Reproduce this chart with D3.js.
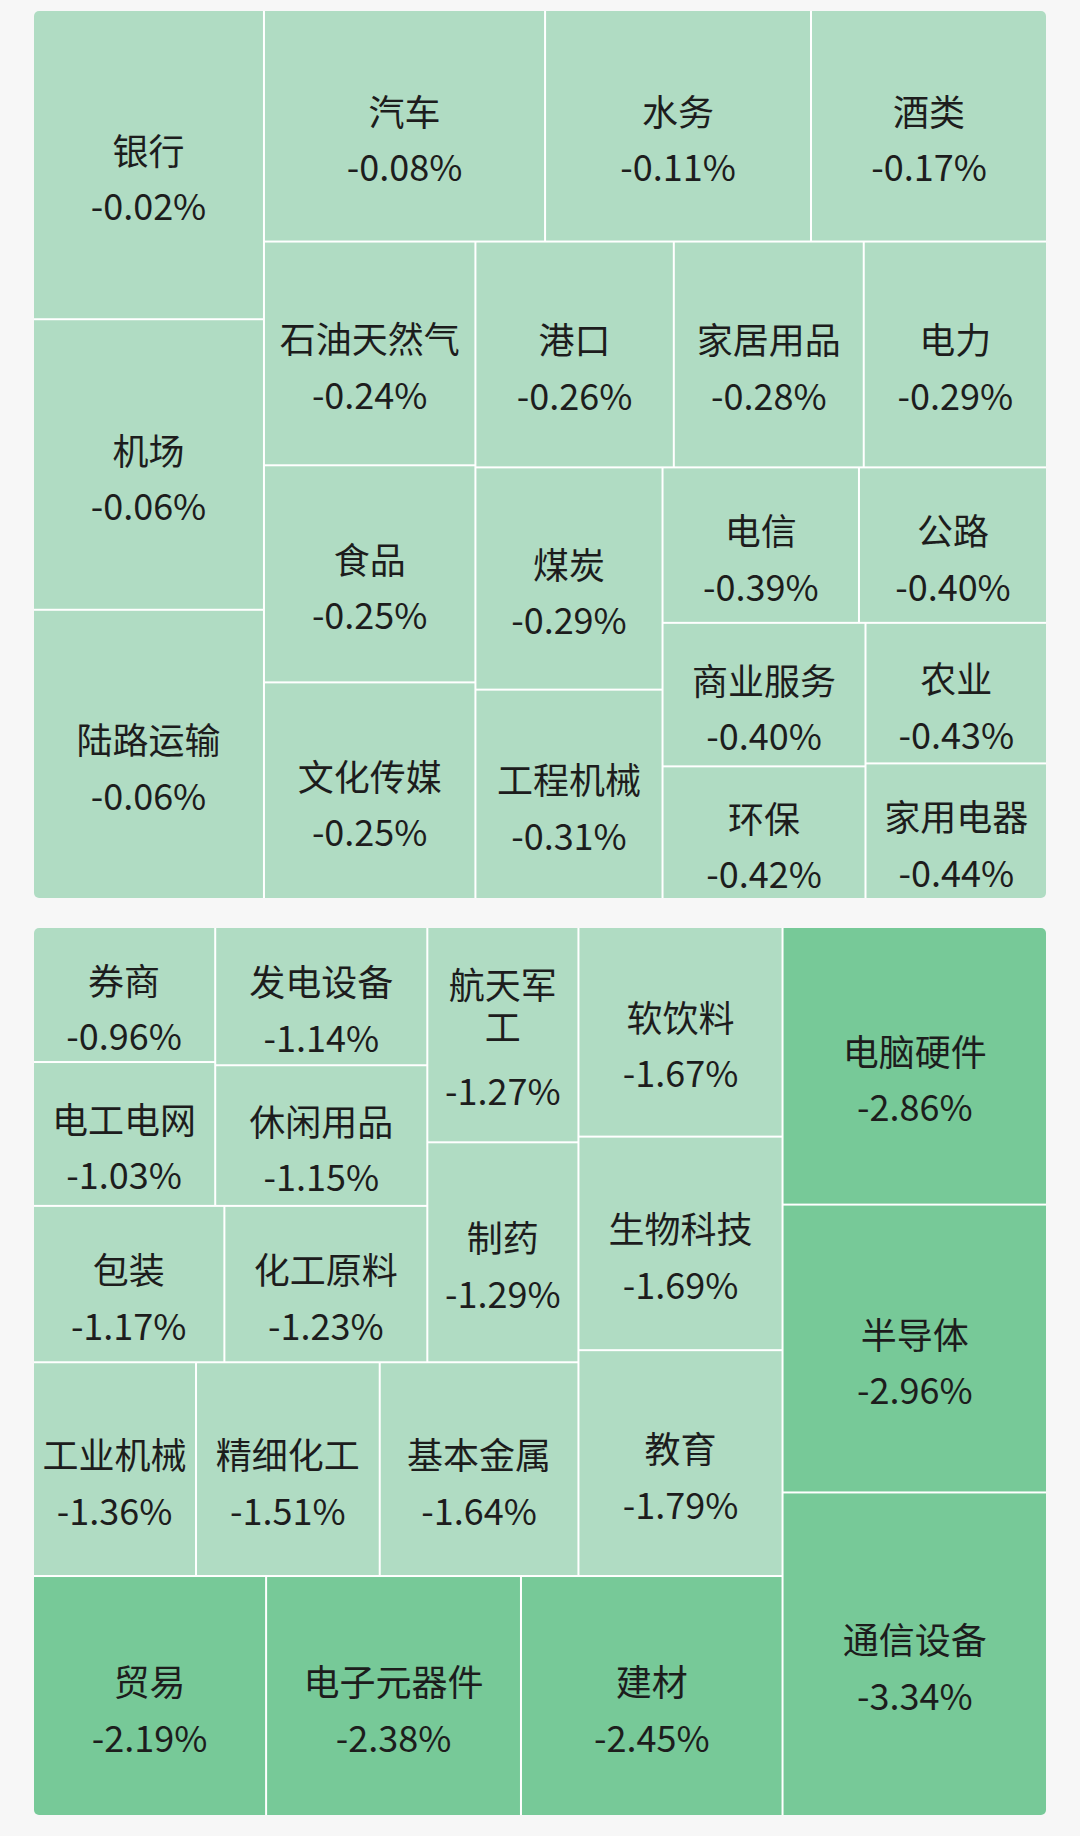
<!DOCTYPE html>
<html>
<head>
<meta charset="utf-8">
<script src="https://cdn.jsdelivr.net/npm/d3@7"></script>
<style>
  html, body { margin: 0; padding: 0; background: #f7f7f7; }
  svg { display: block; }
  text { font-family: "Noto Sans CJK SC", "Noto Sans", sans-serif; fill: #1d1d1d; }
</style>
</head>
<body>
<div id="chart"></div>
<script>
// top block: small declines, ordered by change
const topNames = ['银行', '机场', '陆路运输', '汽车', '水务', '酒类', '石油天然气', '食品', '文化传媒', '港口',
  '家居用品', '电力', '煤炭', '工程机械', '电信', '公路', '商业服务', '环保', '农业', '家用电器'];
const topChange = [-0.02, -0.06, -0.06, -0.08, -0.11, -0.17, -0.24, -0.25, -0.25, -0.26,
  -0.28, -0.29, -0.29, -0.31, -0.39, -0.40, -0.40, -0.42, -0.43, -0.44];
const topWeight = [711, 668, 665, 648, 613, 544, 471, 457, 456, 446,
  427, 412, 414, 390, 304, 291, 290, 268, 254, 245];

// bottom block: bigger declines
const bottomNames = ['券商', '电工电网', '发电设备', '休闲用品', '包装', '化工原料', '航天军工', '制药', '工业机械', '精细化工',
  '基本金属', '软饮料', '生物科技', '教育', '贸易', '电子元器件', '建材', '电脑硬件', '半导体', '通信设备'];
const bottomChange = [-0.96, -1.03, -1.14, -1.15, -1.17, -1.23, -1.27, -1.29, -1.36, -1.51,
  -1.64, -1.67, -1.69, -1.79, -2.19, -2.38, -2.45, -2.86, -2.96, -3.34];
const bottomWeight = [245, 261, 292, 297, 298, 316, 324, 331, 347, 391,
  423, 426, 434, 459, 557, 609, 625, 731, 758, 852];

let width = 1080,
  height = 1836,
  panelX = 34,
  panelW = 1012,
  panelH = 887,
  fontSize = 36;

// the bottom block is laid out from its last item and turned round
const panels = [
  {y: 11, names: topNames, change: topChange, weight: topWeight, flip: false},
  {y: 928, names: bottomNames, change: bottomChange, weight: bottomWeight, flip: true}
];

const color = d3.scaleThreshold()
  .domain([-2])
  .range(['#77c998', '#b0dcc3']);

let svg = d3.select('#chart')
  .append('svg')
  .attr('width', width)
  .attr('height', height);

svg.append('rect')
  .attr('width', width)
  .attr('height', height)
  .attr('fill', '#f7f7f7');

// hidden text used to measure label widths
const measure = svg.append('text')
  .attr('font-size', fontSize)
  .attr('visibility', 'hidden');

function textWidth(s) {
  measure.text(s);
  return measure.node().getComputedTextLength();
}

// break a name by characters when the cell is too narrow
function wrap(name, maxW) {
  let lines = [], cur = '';
  for (const ch of name) {
    if (cur && textWidth(cur + ch) > maxW) {
      lines.push(cur);
      cur = ch;
    } else {
      cur += ch;
    }
  }
  lines.push(cur);
  return lines;
}

panels.forEach(function(p, i) {
  let items = p.names.map((name, k) => ({name: name, change: p.change[k], weight: p.weight[k]}));
  if (p.flip) items = items.slice().reverse();

  const root = d3.hierarchy({children: items})
    .sum(d => d.weight || 0);

  d3.treemap()
    .size([panelW, panelH])
    .paddingInner(2)
    .tile(d3.treemapSquarify.ratio(1))(root);

  const leaves = root.leaves();
  if (p.flip) {
    leaves.forEach(function(d) {
      const x0 = panelW - d.x1, x1 = panelW - d.x0, y0 = panelH - d.y1, y1 = panelH - d.y0;
      d.x0 = x0; d.x1 = x1; d.y0 = y0; d.y1 = y1;
    });
  }

  const g = svg.append('g')
    .attr('transform', 'translate(' + panelX + ',' + p.y + ')');

  g.append('clipPath')
    .attr('id', 'clip' + i)
    .append('rect')
    .attr('width', panelW)
    .attr('height', panelH)
    .attr('rx', 5);

  const body = g.append('g')
    .attr('clip-path', 'url(#clip' + i + ')');

  body.append('rect')
    .attr('width', panelW)
    .attr('height', panelH)
    .attr('fill', '#ffffff');

  const cell = body.selectAll('.cell')
    .data(leaves)
    .enter().append('g')
    .attr('class', 'cell');

  cell.append('rect')
    .attr('x', d => d.x0)
    .attr('y', d => d.y0)
    .attr('width', d => d.x1 - d.x0)
    .attr('height', d => d.y1 - d.y0)
    .attr('fill', d => color(d.data.change));

  cell.each(function(d) {
    const el = d3.select(this);
    const cx = (d.x0 + d.x1) / 2, cy = (d.y0 + d.y1) / 2;
    const lines = wrap(d.data.name, d.x1 - d.x0 - 12);
    const n = lines.length;

    // name, one tspan per line
    const name = el.append('text')
      .attr('text-anchor', 'middle')
      .attr('dominant-baseline', 'central')
      .attr('font-size', fontSize);
    lines.forEach(function(line, k) {
      name.append('tspan')
        .attr('x', cx)
        .attr('y', cy - 16 - (n - 1) * 36 + k * 42.5)
        .text(line);
    });

    el.append('text')
      .attr('x', cx)
      .attr('y', cy + 39.5 + (n - 1) * 15)
      .attr('text-anchor', 'middle')
      .attr('dominant-baseline', 'central')
      .attr('font-size', fontSize)
      .text(d.data.change.toFixed(2) + '%');
  });
});

measure.remove();
</script>
</body>
</html>
